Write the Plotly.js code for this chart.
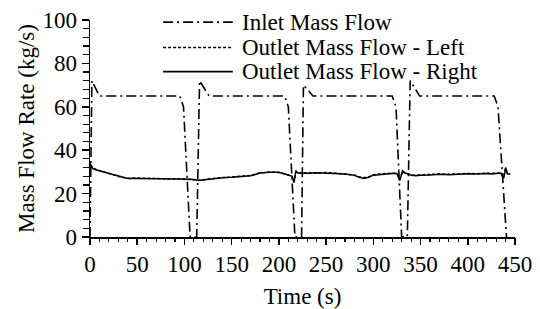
<!DOCTYPE html>
<html><head><meta charset="utf-8">
<script src="https://cdn.plot.ly/plotly-3.0.1.min.js"></script>
<style>html,body{margin:0;padding:0;background:#fff}#c{width:540px;height:309px}
#c svg text{font-family:'Liberation Serif' !important;}</style>
</head><body><div id="c"></div>
<script>
// Inlet mass flow (time s, kg/s)
const inletT = [0,2,10,95,99,106,113,116,126,206,210,217,224,226,236,320,324,330,336,339,349,428,432,441];
const inletV = [0,72,65,65,60,0,0,72,65,65,60,0,0,70,65,65,60,0,0,72,65,65,60,0];

// Outlet mass flow - Right (solid)
const rightT = [0,3,6,10,15,20,25,30,35,40,50,60,70,80,90,100,105,110,115,120,130,140,150,160,170,175,180,190,200,205,210,214,216,218,220,225,230,240,250,260,270,280,285,290,295,300,310,320,325,328,331,334,337,340,345,350,360,370,380,390,400,410,420,425,430,435,438,440,442,445];
const rightV = [34,31.5,31,30.5,30,29.5,28.8,28,27.3,27,27,27,26.8,26.8,26.8,26.7,26.6,26.5,26,26.3,27,27.3,27.5,27.7,28.2,28.8,29.5,29.8,29.8,29.3,28.5,28,25,30.5,29.5,29.3,29.4,29.6,29.5,29.2,29,28.4,27.5,27,27.5,28.5,29,29.3,29.3,26,30.5,29.5,29,28.4,28.2,28.5,28.6,28.9,28.7,29,29.2,29,29.3,29,29.4,29.5,27,32,29,29];

// Outlet mass flow - Left (dashed)
const leftT = [0,3,6,10,15,20,25,30,35,40,50,60,70,80,90,100,105,110,115,120,130,140,150,160,170,175,180,190,200,205,210,214,216,218,220,225,230,240,250,260,270,280,285,290,295,300,310,320,325,328,331,334,337,340,345,350,360,370,380,390,400,410,420,425,430,435,438,440,442,445];
const leftV = [33,31.8,31.2,30.6,30.1,29.4,28.6,27.9,27.4,27.1,27.2,27.1,26.9,27,26.9,26.8,26.7,26.4,26.2,26.5,27.1,27.4,27.6,27.9,28.4,29,29.6,29.9,29.7,29.1,28.6,27.8,25.5,30.2,29.6,29.5,29.6,29.4,29.7,29.4,29.1,28.6,27.8,27.3,27.7,28.7,29.1,29.5,29.2,26.5,30.2,29.3,29.2,28.6,28.4,28.7,28.8,29.1,28.9,29.2,29.3,29.1,29.5,29.2,29.6,29.3,27.5,31.5,29.2,29.1];

const legendNames = ['Inlet Mass Flow','Outlet Mass Flow - Left','Outlet Mass Flow - Right'];

const FONT = 'Liberation Serif';
const FS = 23;
const inletDash = '10px,4px,2px,4px';
const leftDash = '3px,2px';

const traces = [
  {x: inletT, y: inletV, mode:'lines', line:{color:'#000', width:1.6, dash:inletDash}, name: legendNames[0]},
  {x: leftT, y: leftV, mode:'lines', line:{color:'#000', width:1.5, dash:leftDash}, name: legendNames[1]},
  {x: rightT, y: rightV, mode:'lines', line:{color:'#000', width:1.5}, name: legendNames[2]},
  {x: [], y: [], xaxis:'x2', yaxis:'y2', mode:'lines', showlegend:false, hoverinfo:'skip'}
];

const rowsY = [0.99, 0.873, 0.762];
const dashes = [inletDash, leftDash, 'solid'];
const shapes = rowsY.map((y,i)=>({type:'line', xref:'paper', yref:'paper', x0:0.172, x1:0.336, y0:y, y1:y, line:{color:'#000', width:1.6, dash:dashes[i]}}));
const annotations = rowsY.map((y,i)=>({xref:'paper', yref:'paper', x:0.352, y:y, xanchor:'left', yanchor:'middle', text:legendNames[i], showarrow:false, font:{family:FONT, size:FS}}));

const layout = {
  width:540, height:309,
  margin:{l:90, r:25, t:20, b:72},
  paper_bgcolor:'#fff', plot_bgcolor:'#fff',
  showlegend:false,
  font:{family:FONT, size:FS, color:'#000'},
  xaxis:{range:[0,450], dtick:50, tick0:0, showgrid:false, zeroline:false, showline:true, linecolor:'#000', linewidth:1.5,
    ticks:'outside', ticklen:6, tickwidth:1.5, tickcolor:'#000',
    tickfont:{family:FONT, size:FS},
    title:{text:'Time (s)', font:{family:FONT, size:FS}}},
  yaxis:{range:[0,100], dtick:20, tick0:0, showgrid:false, zeroline:false, showline:true, linecolor:'#000', linewidth:1.5,
    ticks:'outside', ticklen:7, tickwidth:1.5, tickcolor:'#000',
    tickfont:{family:FONT, size:FS},
    title:{text:'Mass Flow Rate (kg/s)', font:{family:FONT, size:FS}}},
  xaxis2:{overlaying:'x', anchor:'y', side:'bottom', range:[0,450], dtick:10, tick0:0, showgrid:false, zeroline:false, showline:false,
    ticks:'outside', ticklen:4, tickwidth:1.2, tickcolor:'#000', showticklabels:false},
  yaxis2:{overlaying:'y', anchor:'x', side:'left', range:[0,100], dtick:4, tick0:0, showgrid:false, zeroline:false, showline:false,
    ticks:'outside', ticklen:6, tickwidth:1.2, tickcolor:'#000', showticklabels:false},
  shapes: shapes,
  annotations: annotations
};
Plotly.newPlot('c', traces, layout, {staticPlot:true, displayModeBar:false});
</script></body></html>
